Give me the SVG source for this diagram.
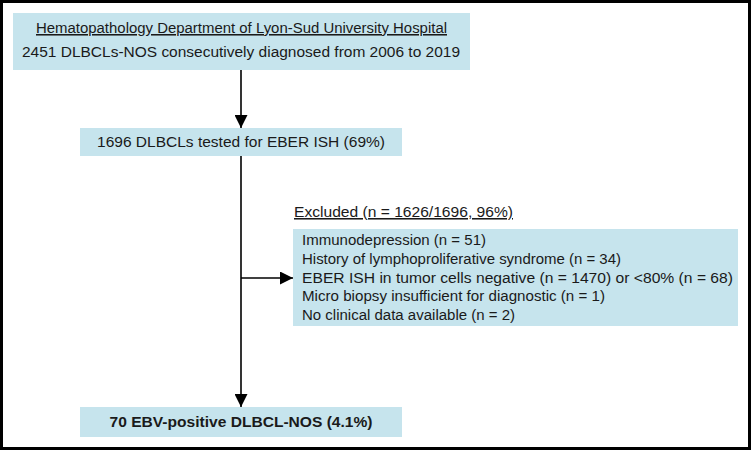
<svg xmlns="http://www.w3.org/2000/svg" width="752" height="451" viewBox="0 0 752 451">
<style>
.box{fill:#c6e4ed}
.t{font-family:"Liberation Sans",Arial,sans-serif;font-size:15.5px;fill:#1a1a1a}
.c{text-anchor:middle}
.b{font-weight:bold}
.ln{stroke:#000;stroke-width:1.6;fill:none}
</style>
<defs>
<marker id="ah" viewBox="0 0 12 12" refX="12" refY="6" markerWidth="13" markerHeight="13" markerUnits="userSpaceOnUse" orient="auto">
<path d="M0,0 L12,6 L0,12 z" fill="#000"/>
</marker>
</defs>
<rect x="1.5" y="1.5" width="748" height="447" fill="#fff" stroke="#000" stroke-width="3"/>
<g id="connectors">
<line class="ln" x1="241" y1="70" x2="241" y2="128" marker-end="url(#ah)"/>
<line class="ln" x1="241" y1="156" x2="241" y2="407" marker-end="url(#ah)"/>
<line class="ln" x1="241" y1="278" x2="293" y2="278" marker-end="url(#ah)"/>
</g>
<g id="source">
<rect class="box" x="13" y="13" width="457" height="57"/>
<text class="t c" x="241.5" y="33" textLength="411" lengthAdjust="spacingAndGlyphs" text-decoration="underline">Hematopathology Department of Lyon-Sud University Hospital</text>
<text class="t c" x="241" y="57" textLength="438" lengthAdjust="spacingAndGlyphs">2451 DLBCLs-NOS consecutively diagnosed from 2006 to 2019</text>
</g>
<g id="tested">
<rect class="box" x="80" y="128" width="322" height="28"/>
<text class="t c" x="241" y="147" textLength="288" lengthAdjust="spacingAndGlyphs">1696 DLBCLs tested for EBER ISH (69%)</text>
</g>
<g id="excluded">
<text class="t" x="294" y="217" textLength="219" lengthAdjust="spacingAndGlyphs" text-decoration="underline">Excluded (n = 1626/1696, 96%)</text>
<rect class="box" x="293" y="229" width="445" height="97"/>
<text class="t" x="302" y="245" textLength="184" lengthAdjust="spacingAndGlyphs">Immunodepression (n = 51)</text>
<text class="t" x="302" y="264" textLength="319" lengthAdjust="spacingAndGlyphs">History of lymphoproliferative syndrome (n = 34)</text>
<text class="t" x="302" y="283" textLength="431" lengthAdjust="spacingAndGlyphs">EBER ISH in tumor cells negative (n = 1470) or &lt;80% (n = 68)</text>
<text class="t" x="302" y="301" textLength="303" lengthAdjust="spacingAndGlyphs">Micro biopsy insufficient for diagnostic (n = 1)</text>
<text class="t" x="302" y="320" textLength="213" lengthAdjust="spacingAndGlyphs">No clinical data available (n = 2)</text>
</g>
<g id="result">
<rect class="box" x="80" y="407" width="322" height="30"/>
<text class="t c b" x="241" y="427" textLength="263" lengthAdjust="spacingAndGlyphs">70 EBV-positive DLBCL-NOS (4.1%)</text>
</g>
</svg>
